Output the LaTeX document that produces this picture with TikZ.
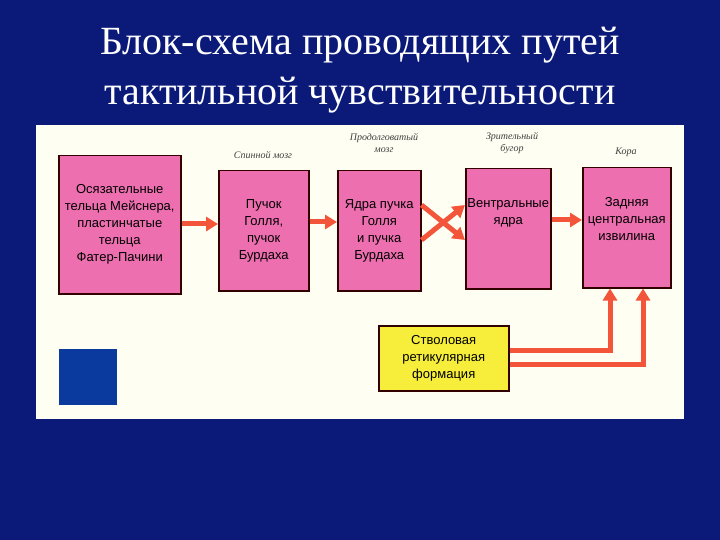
\documentclass[tikz,border=0pt]{standalone}
\usepackage{fontspec}
\setmainfont{Liberation Serif}
\newfontfamily\boxfont{Liberation Sans}
\usetikzlibrary{arrows.meta}
\definecolor{bgblue}{HTML}{0B1A78}
\definecolor{pinkbox}{HTML}{EE6FB0}
\definecolor{yelbox}{HTML}{F6EE3A}
\definecolor{arr}{HTML}{F2553A}
\definecolor{sqblue}{HTML}{0A3A9E}
\begin{document}
\begin{tikzpicture}[x=1pt,y=-1pt,
  blk/.style={draw=black!80!red,line width=1.5pt,fill=pinkbox,align=center,font=\boxfont\fontsize{13}{17}\selectfont,inner sep=1pt,anchor=north west},
  lab/.style={font=\itshape\fontsize{10}{12}\selectfont,align=center,text=black!75},
  ar/.style={draw=arr,line width=5pt,-{Triangle[length=12pt,width=14pt]}}]
\fill[bgblue] (0,0) rectangle (720,540);
\useasboundingbox (0,0) rectangle (720,540);
\node[text=white,font=\fontsize{40}{50}\selectfont,align=center] (title) at (360,70) {Блок-схема проводящих путей\\тактильной чувствительности};
\fill[white!95!yellow] (36,125) rectangle (684,419);
\node[blk,minimum width=122,minimum height=138] (b1) at (58,155) {Осязательные\\тельца Мейснера,\\пластинчатые\\тельца\\Фатер-Пачини};
\node[blk,minimum width=90,minimum height=120] (b2) at (218,170) {Пучок\\Голля,\\пучок\\Бурдаха};
\node[blk,minimum width=83,minimum height=120] (b3) at (337,170) {Ядра пучка\\Голля\\и пучка\\Бурдаха};
\node[blk,minimum width=85,minimum height=120] (b4) at (465,168) {Вентральные\\ядра\\ \\ };
\node[blk,minimum width=88,minimum height=120] (b5) at (582,167) {Задняя\\центральная\\извилина\\ };
\node[blk,fill=yelbox,minimum width=130,minimum height=65] (y) at (378,325) {Стволовая\\ретикулярная\\формация};
\fill[sqblue] (59,349) rectangle (117,405);
\node[lab] (l2) at (263,155) {Спинной мозг};
\node[lab] (l3) at (384,143) {Продолговатый\\мозг};
\node[lab] (l4) at (512,143) {Зрительный\\бугор};
\node[lab] (l5) at (626,152) {Кора};
\draw[ar] (b1.east |- 0,224) -- (b2.west |- 0,224);
\draw[ar] (b2.east |- 0,222) -- (b3.west |- 0,222);
\draw[ar] (b3.east |- 0,205) -- (b4.west |- 0,240);
\draw[ar] (b3.east |- 0,240) -- (b4.west |- 0,205);
\draw[ar] (b4.east |- 0,220) -- (b5.west |- 0,220);
\draw[ar] (y.east |- 0,350) -| (b5.south -| 610,0);
\draw[ar] (y.east |- 0,364) -| (b5.south -| 643,0);
\end{tikzpicture}
\end{document}
